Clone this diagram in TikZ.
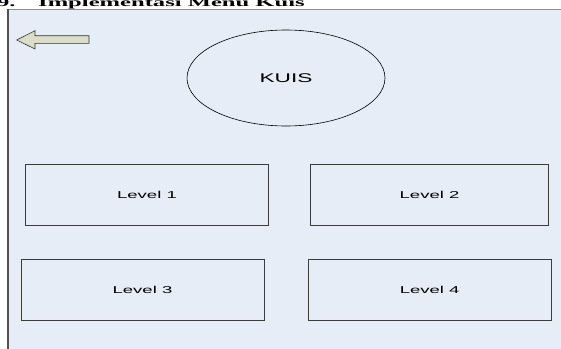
\documentclass[tikz,border=0pt]{standalone}
\usepackage{fontspec}
\setmainfont{Liberation Sans}
\newfontfamily\headfont{Liberation Serif}
\usetikzlibrary{shapes.geometric}
\definecolor{panelfill}{RGB}{230,237,247}
\definecolor{panelline}{RGB}{80,80,80}
\definecolor{topline}{RGB}{140,140,140}
\definecolor{boxline}{RGB}{60,60,60}
\definecolor{arrowfill}{RGB}{218,222,200}
% labels are set wide, stretched sideways
\newcommand{\widetext}[2][1.85]{\scalebox{#1}[1]{#2}}
\tikzset{
  levelbox/.style={draw=boxline, line width=0.7pt, minimum height=61pt,
    font=\fontsize{10}{12}\selectfont, inner sep=0pt},
  menuoval/.style={ellipse, draw=black, line width=0.6pt, minimum width=198pt, minimum height=96pt,
    font=\fontsize{12.6}{14}\selectfont, inner sep=0pt},
}
\begin{document}
\begin{tikzpicture}[x=1pt,y=-1pt]
\useasboundingbox (0,0) rectangle (561,348);
% page panel
\fill[panelfill] (8,9) rectangle (565,352);
\draw[topline, line width=0.8pt] (8,9) -- (565,9);
\draw[panelline, line width=1.6pt] (8,9) -- (8,352);
% section heading, cut by the top edge
\node[anchor=base west, inner sep=0pt, font=\headfont\bfseries\fontsize{12}{14}\selectfont] (heading) at (-3,6)
  {\widetext[2.05]{9.\hspace{11pt}Implementasi Menu Kuis}};
% back arrow
\draw[fill=arrowfill, draw=black!80, line width=0.6pt]
  (16.7,40) -- (35,30.7) -- (35,35.7) -- (89,35.7) -- (89,43.3) -- (35,43.3) -- (35,49) -- cycle;
% menu
\node[menuoval] (kuis) at (286,78) {\widetext[1.8]{KUIS}};
\node[levelbox, minimum width=242.5pt] (l1) at (147,194.8) {\widetext{Level 1}};
\node[levelbox, minimum width=238pt] (l2) at (429.5,194.8) {\widetext{Level 2}};
\node[levelbox, minimum width=243pt, minimum height=60.6pt] (l3) at (142.5,290) {\widetext{Level 3}};
\node[levelbox, minimum width=242.6pt, minimum height=60.6pt] (l4) at (429.7,290) {\widetext{Level 4}};
\end{tikzpicture}
\end{document}
